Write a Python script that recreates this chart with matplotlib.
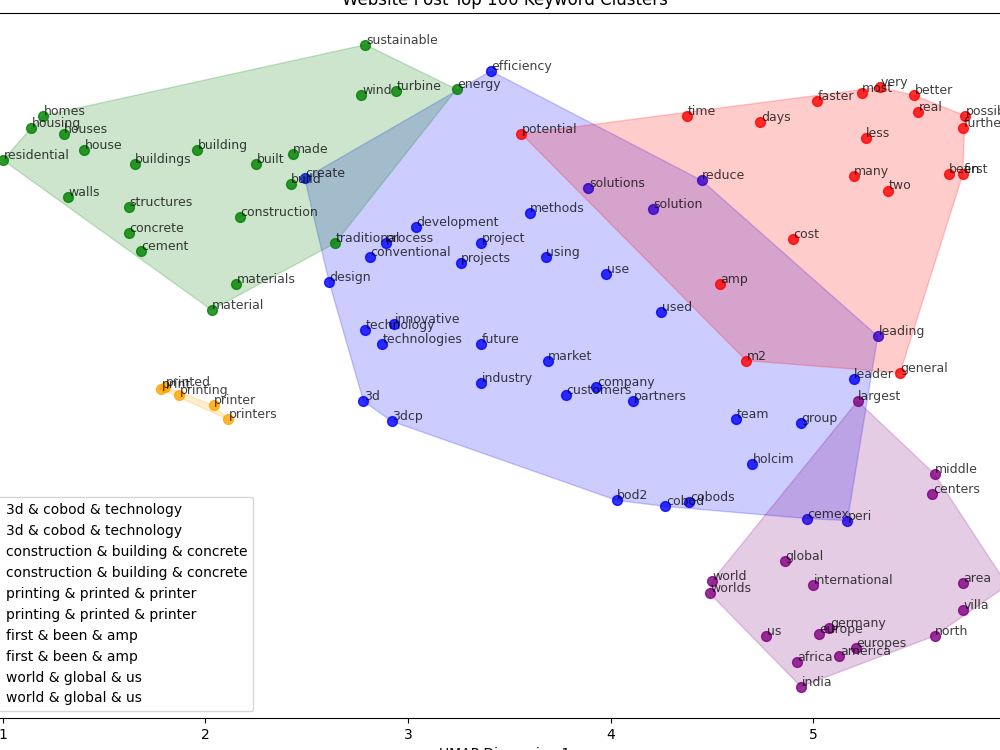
import numpy as np
import matplotlib.pyplot as plt

# cluster names (legend order)
cluster_names = ["3d & cobod & technology",
                 "construction & building & concrete",
                 "printing & printed & printer",
                 "first & been & amp",
                 "world & global & us"]
cluster_colors = ["blue", "green", "orange", "red", "purple"]

# cluster 0: 3d & cobod & technology
words_tech = ["efficiency", "create", "solutions", "reduce", "methods", "solution",
              "development", "process", "project", "conventional", "projects",
              "using", "use", "design", "used", "innovative", "technology",
              "technologies", "future", "leading", "market", "industry", "company",
              "customers", "partners", "3d", "3dcp", "leader", "team", "group",
              "holcim", "bod2", "cobod", "cobods", "cemex", "peri"]
x_tech = [3.41, 2.49, 3.89, 4.45, 3.60, 4.21, 3.04, 2.89, 3.36, 2.81, 3.26,
          3.68, 3.98, 2.61, 4.25, 2.93, 2.79, 2.87, 3.36, 5.32, 3.69, 3.36, 3.93,
          3.78, 4.11, 2.78, 2.92, 5.20, 4.62, 4.94, 4.70, 4.03, 4.27, 4.39, 4.97, 5.17]
y_tech = [6.19, 5.66, 5.61, 5.65, 5.49, 5.51, 5.42, 5.34, 5.34, 5.27, 5.24,
          5.27, 5.19, 5.15, 5.00, 4.94, 4.91, 4.84, 4.84, 4.88, 4.76, 4.65, 4.63,
          4.59, 4.56, 4.56, 4.46, 4.67, 4.47, 4.45, 4.25, 4.07, 4.04, 4.06, 3.98, 3.97]

# cluster 1: construction & building & concrete
words_build = ["sustainable", "wind", "turbine", "energy", "homes", "housing",
               "houses", "house", "residential", "buildings", "building", "built",
               "made", "build", "walls", "structures", "construction", "concrete",
               "cement", "traditional", "materials", "material"]
x_build = [2.79, 2.77, 2.94, 3.24, 1.20, 1.14, 1.30, 1.40, 1.00, 1.65, 1.96, 2.25,
           2.43, 2.42, 1.32, 1.62, 2.17, 1.62, 1.68, 2.64, 2.15, 2.03]
y_build = [6.32, 6.07, 6.09, 6.10, 5.97, 5.91, 5.88, 5.80, 5.75, 5.73, 5.80, 5.73,
           5.78, 5.63, 5.57, 5.52, 5.47, 5.39, 5.30, 5.34, 5.14, 5.01]

# cluster 2: printing & printed & printer
words_print = ["print", "printed", "printing", "printer", "printers"]
x_print = [1.78, 1.80, 1.87, 2.04, 2.11]
y_print = [4.62, 4.63, 4.59, 4.54, 4.47]

# cluster 3: first & been & amp
words_first = ["potential", "time", "days", "faster", "most", "very", "better",
               "real", "possible", "further", "less", "many", "two", "been",
               "first", "cost", "amp", "m2", "general"]
x_first = [3.56, 4.38, 4.74, 5.02, 5.24, 5.33, 5.50, 5.52, 5.75, 5.74, 5.26, 5.20,
           5.37, 5.67, 5.74, 4.90, 4.54, 4.67, 5.43]
y_first = [5.88, 5.97, 5.94, 6.04, 6.08, 6.11, 6.07, 5.99, 5.97, 5.91, 5.86, 5.67,
           5.60, 5.68, 5.68, 5.36, 5.14, 4.76, 4.70]

# cluster 4: world & global & us
words_world = ["largest", "middle", "centers", "global", "world", "worlds",
               "international", "area", "villa", "us", "germany", "europe",
               "europes", "america", "north", "africa", "india", "regions"]
x_world = [5.22, 5.60, 5.59, 4.86, 4.50, 4.49, 5.00, 5.74, 5.74, 4.77, 5.08, 5.03,
           5.21, 5.13, 5.60, 4.92, 4.94, 5.96]
y_world = [4.56, 4.20, 4.10, 3.77, 3.67, 3.61, 3.65, 3.66, 3.53, 3.40, 3.44, 3.41,
           3.34, 3.30, 3.40, 3.27, 3.15, 3.65]

clusters = [(words_tech, x_tech, y_tech),
            (words_build, x_build, y_build),
            (words_print, x_print, y_print),
            (words_first, x_first, y_first),
            (words_world, x_world, y_world)]


def convex_hull(pts):
    # monotone chain
    pts = sorted(set(map(tuple, pts)))
    if len(pts) < 3:
        return np.array(pts)

    def cross(o, a, b):
        return (a[0] - o[0]) * (b[1] - o[1]) - (a[1] - o[1]) * (b[0] - o[0])

    lower = []
    for p in pts:
        while len(lower) >= 2 and cross(lower[-2], lower[-1], p) <= 0:
            lower.pop()
        lower.append(p)
    upper = []
    for p in reversed(pts):
        while len(upper) >= 2 and cross(upper[-2], upper[-1], p) <= 0:
            upper.pop()
        upper.append(p)
    return np.array(lower[:-1] + upper[:-1])


fig = plt.figure(figsize=(10, 7.5), dpi=100)
# the axes runs a little past the figure edges
ax = fig.add_axes([-0.045, 0.04267, 1.1, 0.94])

for (words, xs, ys), name, col in zip(clusters, cluster_names, cluster_colors):
    ax.scatter(xs, ys, s=50, color=col, alpha=0.8, label=name)
    hull = convex_hull(np.column_stack([xs, ys]))
    ax.fill(hull[:, 0], hull[:, 1], color=col, alpha=0.2, label=name)
    for w, x, y in zip(words, xs, ys):
        ax.text(x + 0.003, y + 0.005, w, fontsize=9, alpha=0.75)

ax.set_xlim(0.763, 6.195)
ax.set_ylim(2.995, 6.4766)
ax.set_xticks([1, 2, 3, 4, 5])
ax.set_title("Website Post Top 100 Keyword Clusters")
ax.set_xlabel("UMAP Dimension 1")
ax.set_ylabel("UMAP Dimension 2")
ax.legend(loc="lower left")

plt.savefig("out.png", dpi=100)
